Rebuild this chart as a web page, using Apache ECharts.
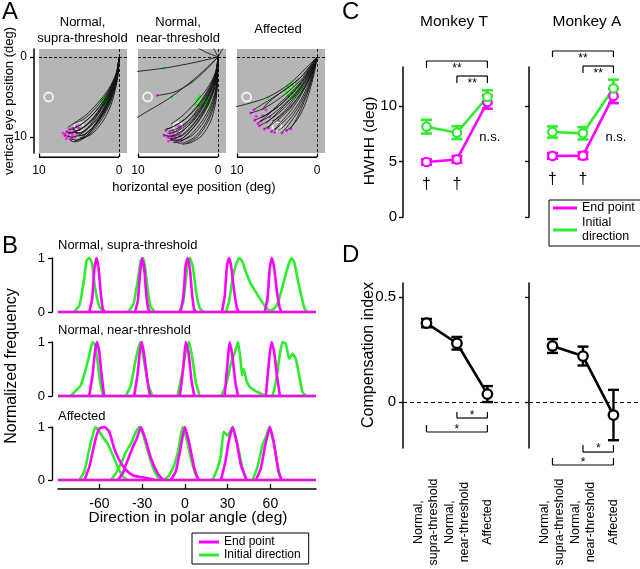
<!DOCTYPE html>
<html><head><meta charset="utf-8">
<script src="https://cdn.jsdelivr.net/npm/echarts@6/dist/echarts.min.js"></script>
<style>html,body{margin:0;padding:0;background:#fff}#c{width:640px;height:569px}</style>
</head><body><div id="c"></div><script>
// ---------------- DATA ----------------
// Panel A: eye trajectories [horizontal, vertical] (deg)
const aTitles = ['Normal,\nsupra-threshold', 'Normal,\nnear-threshold', 'Affected'];
const aTicks = [10, 0];
const trajA1 = [
  [[0,0],[0.1,2],[0.5,4],[1.2,6],[2.3,8],[3.8,9.8],[4.8,10.3]],
  [[0,0],[0.15,2],[0.6,4],[1.4,6],[2.6,8],[4.3,9.7],[5.0,9.8]],
  [[0,0],[0.2,2],[0.8,4],[1.7,6],[3.0,8],[4.8,9.5],[5.6,9.4]],
  [[0,0],[0.2,2],[0.9,4],[2.0,6],[3.5,8],[5.2,9.2],[5.9,9.0]],
  [[0,0],[0.3,2],[1.1,4],[2.3,6],[3.9,7.8],[5.5,8.9],[6.2,9.1]],
  [[0,0],[0.3,2],[1.2,4],[2.6,6],[4.3,7.7],[5.6,8.3]],
  [[0,0],[0.2,2],[0.8,4],[1.6,6],[2.7,8],[4.0,9.8],[5.0,10.5],[5.7,10.6],[6.3,10.2]],
  [[0,0],[0.15,2],[0.7,4],[1.5,6],[2.8,8.2],[4.4,9.9],[5.3,10.4],[6.0,10.2]],
  [[0,0],[0.25,2],[1.0,4],[2.1,6],[3.4,7.8],[4.8,9.0],[6.0,9.5],[6.6,9.3]],
  [[0,0],[0.35,2],[1.3,4],[2.7,5.8],[4.2,7.3],[5.5,8.2],[6.4,8.8]],
  [[0,0],[0.1,2],[0.45,4],[1.0,6],[2.0,8],[3.5,9.7],[4.9,10.1]],
  [[0,0],[0.25,2],[0.9,4],[1.9,6],[3.2,8],[4.6,9.5],[5.9,10.0],[6.8,9.8]],
  [[0,0],[0.18,2],[0.75,4],[1.6,6],[2.9,8],[4.5,9.3],[5.4,9.6]],
  [[0,0],[0.12,2],[0.55,4],[1.3,6],[2.5,8],[4.1,9.9],[5.6,10.5]],
  [[0,0],[0.22,2],[0.85,4],[1.85,6],[3.3,7.9],[5.0,9.1],[6.4,9.6]],
  [[0,0],[0.28,2],[1.05,4],[2.2,5.9],[3.7,7.6],[5.2,8.7],[6.0,8.9]],
  [[0,0],[0.16,2],[0.65,4],[1.45,6],[2.7,8.1],[4.2,9.6],[5.2,9.9]]
];
const trajA2 = [
  [[0,0],[0.3,2],[1.2,4],[2.5,6],[4.2,7.8],[5.8,8.8],[6.5,9.0]],
  [[0,0],[0.25,2],[1.0,4],[2.2,6],[3.7,8],[5.3,9.3],[6.3,9.6]],
  [[0,0],[0.2,2],[0.8,4],[1.8,6],[3.2,8],[4.8,9.6],[5.8,10.0]],
  [[0,0],[0.15,2],[0.6,4],[1.5,6],[2.8,8],[4.3,9.6],[5.6,10.3]],
  [[0,0],[0.1,2],[0.45,4],[1.2,6],[2.4,8],[3.9,9.7],[5.2,10.5],[6.0,10.4]],
  [[0,0],[0.08,2],[0.3,4],[0.9,6],[2.0,8],[3.5,9.8],[4.8,10.6],[5.6,10.7]],
  [[0,0],[0.05,2],[0.2,4],[0.6,6],[1.4,8],[2.8,9.9],[4.2,10.7],[5.0,10.8]],
  [[0,0],[0.03,2],[0.1,4],[0.35,6],[0.9,8],[2.0,9.8],[3.4,10.7],[4.5,10.9]],
  [[0,0],[0.2,2],[0.9,4],[2.0,6],[3.4,7.7],[5.0,8.9],[6.2,9.3]],
  [[0,0],[0.12,2],[0.5,4],[1.3,6],[2.6,8.2],[4.2,10.0],[5.3,10.4],[6.2,10.1]],
  [[0,0],[0.35,2],[1.4,4],[2.9,5.8],[4.5,7.4],[5.9,8.4]],
  [[0,0],[0.18,2],[0.75,4],[1.7,6],[3.0,7.9],[4.6,9.3],[6.0,9.9],[6.9,9.7]],
  [[0,0],[0.07,2],[0.25,4],[0.75,6],[1.7,8],[3.1,9.7],[4.6,10.5]],
  [[0,0],[0.14,2],[0.55,4],[1.4,6],[2.7,8],[4.4,9.8],[5.9,10.2]],
  [[0,0],[0.22,2],[0.85,4],[1.9,6],[3.3,7.9],[4.9,9.2],[5.7,9.4]],
  [[0,0],[0.04,2],[0.15,4],[0.5,6],[1.2,8],[2.5,9.9],[3.9,10.8]],
  [[0,0],[0.28,2],[1.1,4],[2.4,6],[3.9,7.6],[5.4,8.6],[6.6,9.1]],
  [[0,0],[3,0.7],[6.8,1.4],[10.5,1.85]],
  [[0,0],[1.5,1.6],[3.3,3.2],[5.5,4.4],[7.6,4.8]],
  [[0,0],[2,1.9],[4,3.6],[6.3,5.3],[8.5,6.6],[10.5,7.8]],
  [[0,0],[1.5,-0.6],[2.6,-1.2]],
  [[0,0],[0.4,-0.8],[0.6,-1.2]],
  [[0,0],[-0.4,-0.7],[-0.7,-1.2]]
];
const trajA3 = [
  [[0,0],[0.8,1.2],[1.8,2.6],[3.2,4.0],[5.0,5.4],[6.8,6.5],[8.3,7.0]],
  [[0,0],[0.7,1.3],[1.6,2.8],[2.9,4.4],[4.6,6.0],[6.3,7.2],[7.8,7.9]],
  [[0,0],[0.6,1.4],[1.4,3.0],[2.6,4.7],[4.1,6.4],[5.8,7.8],[7.2,8.6]],
  [[0,0],[0.5,1.5],[1.2,3.2],[2.3,5.0],[3.7,6.8],[5.3,8.2],[6.6,9.0]],
  [[0,0],[0.45,1.6],[1.1,3.4],[2.0,5.3],[3.2,7.1],[4.6,8.5],[5.7,9.3]],
  [[0,0],[0.4,1.7],[0.95,3.6],[1.7,5.5],[2.7,7.3],[3.8,8.8],[4.4,9.5]],
  [[0,0],[0.3,1.8],[0.8,3.8],[1.4,5.7],[2.2,7.4],[3.1,8.6],[3.8,9.2]],
  [[0,0],[0.9,1.2],[2.0,2.5],[3.5,3.7],[5.2,4.9],[6.8,5.9],[7.9,6.6]],
  [[0,0],[0.65,1.3],[1.5,2.9],[2.7,4.5],[4.3,6.1],[5.9,7.4],[7.0,8.0]],
  [[0,0],[0.55,1.45],[1.3,3.1],[2.5,4.8],[3.9,6.6],[5.4,8.0],[6.1,8.9]],
  [[0,0],[0.5,1.5],[1.2,3.2],[2.2,5.1],[3.5,7.0],[4.9,8.6],[5.3,9.4]],
  [[0,0],[0.75,1.25],[1.7,2.7],[3.0,4.2],[4.7,5.8],[6.3,7.4],[7.4,8.3]],
  [[0,0],[1.5,1.5],[3.5,3.4],[6.1,5.0],[8.5,5.8],[10.5,6.3]],
  [[0,0],[0.35,1.7],[0.9,3.7],[1.6,5.6],[2.5,7.6],[3.3,9.0]],
  [[0,0],[0.85,1.1],[1.9,2.4],[3.3,3.6],[5.0,4.8],[6.4,6.0],[6.8,6.6]],
  [[0,0],[0.6,1.35],[1.45,2.95],[2.65,4.6],[4.2,6.2],[5.6,7.6],[6.4,8.3]],
  [[0,0],[0.42,1.65],[1.0,3.5],[1.85,5.4],[2.95,7.2],[4.2,8.7],[4.9,9.3]],
  [[0,0],[0.72,1.28],[1.65,2.75],[2.95,4.3],[4.5,5.9],[6.0,7.0],[7.0,7.6]],
  [[0,0],[0.52,1.5],[1.25,3.2],[2.35,5.0],[3.8,6.7],[5.0,7.7],[5.6,8.0]]
];
const greenA1 = [[1.0,5.3],[1.3,5.0],[1.6,5.5],[1.9,5.2],[2.1,5.6],[1.2,5.7],[1.5,5.9],[0.9,4.9],[1.8,5.8],[1.4,5.4],[2.2,5.3],[1.1,5.5],[1.7,5.1],[2.0,5.9],[1.3,5.6]];
const magA1 = [[5.0,8.9],[5.6,9.2],[6.1,9.4],[6.5,9.3],[5.8,9.7],[6.3,9.9],[5.3,9.5],[6.7,9.6],[5.9,10.1],[6.8,9.8],[5.4,8.6],[6.2,9.0],[6.0,10.3],[5.5,10.0],[6.6,10.2],[7.0,9.5]];
const greenA2 = [[0.9,5.0],[1.2,5.4],[1.5,5.8],[1.8,5.2],[2.1,5.6],[2.4,6.0],[2.7,5.5],[1.3,6.1],[1.6,5.0],[2.0,6.2],[2.5,5.2],[1.1,5.8],[1.9,5.9],[2.3,4.9],[1.4,5.6],[2.8,5.9],[6.8,1.4],[3.3,3.2],[5.8,5.0]];
const magA2 = [[4.5,9.0],[5.0,9.3],[5.5,9.1],[6.0,9.5],[6.5,9.2],[4.8,9.8],[5.3,10.1],[5.8,10.3],[6.3,10.0],[4.6,10.4],[5.2,10.6],[6.7,9.8],[5.9,9.9],[4.9,8.7],[5.6,9.7],[6.2,10.5],[7.6,4.8]];
const greenA3 = [[2.0,3.4],[2.4,3.8],[2.8,4.2],[3.2,4.5],[3.6,4.8],[2.2,4.5],[2.6,3.2],[3.0,3.6],[3.4,4.0],[3.8,4.4],[2.5,4.9],[3.1,5.0],[1.9,4.0],[4.0,4.1],[2.9,4.7],[3.3,3.3],[2.1,3.9],[3.7,3.6],[2.7,4.4],[3.5,5.0],[6.1,5.0]];
const magA3 = [[8.3,7.0],[7.8,7.9],[7.2,8.6],[6.6,9.0],[5.7,9.3],[4.4,9.5],[3.8,9.2],[7.9,6.6],[7.0,8.0],[6.1,8.9],[5.3,9.4],[7.4,8.3],[3.3,9.0],[6.8,7.3],[5.9,7.5],[4.8,8.0],[6.4,6.6],[7.6,7.4]];
const targetsA = [[8.8,5.0],[5.0,8.7]];

// Panel B: normalized direction distributions [angle, freq]
const bTitles = ['Normal, supra-threshold', 'Normal, near-threshold', 'Affected'];
const bTicks = [-60, -30, 0, 30, 60];
const bRange = [-89, 92];
const bGreenR1 = [
  [[-78,0],[-74,0.12],[-71,0.55],[-69,0.95],[-67,1],[-65,0.88],[-63,0.45],[-60,0.1],[-57,0]],
  [[-40,0],[-36,0.15],[-33,0.6],[-31,0.95],[-29.5,1],[-28,0.85],[-26,0.4],[-24,0.1],[-21,0]],
  [[-4,0],[-1,0.2],[1.5,0.8],[3.5,1],[5.5,0.85],[8,0.35],[10.5,0.07],[13,0]],
  [[28.7,0],[31,0.19],[33.4,0.62],[35.7,0.86],[38.1,1],[40.4,0.93],[42.8,0.74],[46.3,0.52],[49.8,0.37],[53.3,0.22],[56.8,0.09],[60.4,0]],
  [[59,0],[62,0.05],[65,0.15],[68,0.42],[71,0.72],[73,0.9],[75,1],[77,0.9],[79,0.62],[82,0.27],[84,0.06],[86,0]]
];
const bMagR1 = [
  [[-67,0],[-65,0.25],[-63.5,0.8],[-62,1],[-60.5,0.8],[-59,0.35],[-57.5,0.05],[-56,0]],
  [[-35,0],[-33,0.2],[-31.5,0.7],[-30,1],[-28.5,0.8],[-27,0.3],[-25.5,0.05],[-24,0]],
  [[-3,0],[-1,0.3],[0.5,0.85],[2,1],[3.5,0.8],[5,0.35],[6.5,0.05],[8,0]],
  [[26,0],[28,0.3],[29.5,0.85],[31,1],[32.5,0.85],[34.5,0.4],[36.5,0.08],[38,0]],
  [[56,0],[58,0.25],[59.5,0.8],[61,1],[62.5,0.85],[64.5,0.4],[66.5,0.08],[68,0]]
];
const bGreenR2 = [
  [[-80,0],[-76.5,0.1],[-73,0.2],[-69.5,0.5],[-67.1,0.75],[-64.8,1],[-62.9,0.94],[-61.2,0.63],[-59.4,0.26],[-57.7,0.04],[-56,0]],
  [[-41.4,0],[-37.9,0.2],[-34.4,0.69],[-31.3,1],[-28.5,0.63],[-25.5,0.2],[-22.7,0]],
  [[-5.2,0],[-2.2,0.38],[0.6,0.81],[3,1],[5.3,0.69],[7.6,0.26],[10.4,0]],
  [[25.6,0],[29.1,0.23],[32.6,0.63],[35,0.81],[37.3,1],[39,0.69],[40.1,0.38],[41.3,0.5],[43.2,0.29],[45.5,0.17],[49,0.1],[53.7,0.04],[57.3,0]],
  [[61.5,0],[63.9,0.26],[66.2,0.69],[68.5,1],[70.8,0.97],[73.2,0.69],[75.5,0.78],[77.8,0.69],[80.2,0.38],[82.5,0.07],[84.9,0]]
];
const bMagR2 = [
  [[-67.1,0],[-64.8,0.38],[-63.1,0.81],[-61.7,1],[-60,0.81],[-58.4,0.38],[-56.6,0]],
  [[-35.6,0],[-33.3,0.38],[-31.6,0.81],[-30.2,1],[-28.5,0.75],[-26.2,0.26],[-24.4,0]],
  [[-3.5,0],[-1.2,0.5],[0.6,1],[2.5,0.81],[4.8,0.26],[6.7,0]],
  [[27.9,0],[29.8,0.57],[31.4,1],[33.3,0.75],[35.4,0.26],[37.3,0]],
  [[56.8,0],[59.2,0.69],[60.8,1],[62.7,0.81],[64.6,0.38],[66.7,0]]
];
const bGreenR3 = [
  [[-74,0],[-70.5,0.16],[-67,0.59],[-64.7,0.84],[-62.8,1],[-60.5,0.94],[-57.7,0.81],[-54.2,0.69],[-50.6,0.47],[-47.1,0.25],[-43.6,0.06],[-40.1,0]],
  [[-51.9,0],[-48.4,0.125],[-44.8,0.31],[-41.3,0.53],[-37.8,0.69],[-34.3,0.91],[-31.9,1],[-29.1,0.84],[-26.1,0.56],[-22.6,0.25],[-19.1,0.06],[-16.8,0]],
  [[-14.5,0],[-11,0.09],[-7.5,0.28],[-4.4,0.59],[-1.6,1],[1.2,0.78],[4.2,0.41],[7.7,0.09],[10.1,0]],
  [[19.4,0],[22.9,0.22],[25.3,0.47],[27.2,0.91],[30,0.84],[33.5,1],[37,0.66],[40.5,0.22],[43.3,0]],
  [[47.5,0],[51,0.25],[54.5,0.66],[56.8,0.81],[59.2,1],[62.2,0.72],[65,0.28],[67.4,0]]
];
const bMagR3 = [
  [[-70.5,0],[-67,0.25],[-64.7,0.53],[-62.3,0.81],[-60,0.97],[-56.5,1],[-53,0.91],[-49.5,0.59],[-46,0.375],[-41.3,0.19],[-36.6,0.09],[-31.9,0.06],[-27.2,0.04],[-21.4,0]],
  [[-47.1,0],[-43.6,0.125],[-40.1,0.375],[-36.6,0.62],[-33.8,0.78],[-30.8,1],[-27.8,0.78],[-23.8,0.41],[-19.1,0.125],[-15.1,0]],
  [[-9.9,0],[-6.4,0.16],[-3.5,0.53],[0,1],[3.1,0.69],[6.6,0.22],[9.6,0]],
  [[25.3,0],[28.4,0.34],[30.7,0.72],[33.5,1],[36.3,0.72],[39.3,0.28],[43.3,0]],
  [[49.8,0],[53.3,0.22],[56.4,0.66],[59.7,1],[62.7,0.66],[65.7,0.16],[68,0]]
];

// Panel C: HWHH (deg), conditions 1..3
const conds = [1, 2, 3];
const cTitles = ['Monkey T', 'Monkey A'];
const cTicks = [0, 5, 10];
const hwhhEndT = [4.95, 5.18, 10.35];
const hwhhEndErrT = [0.25, 0.3, 0.6];
const hwhhInitT = [8.13, 7.59, 10.8];
const hwhhInitErrT = [0.62, 0.57, 0.6];
const hwhhEndA = [5.5, 5.52, 10.9];
const hwhhEndErrA = [0.25, 0.3, 0.65];
const hwhhInitA = [7.65, 7.53, 11.58];
const hwhhInitErrA = [0.5, 0.55, 0.78];
// significance brackets C: [x1, x2, lineValue, endValue, label, labelValue]
const sigCT = [[1,3,14.04,13.41,'**',13.32],[2,3,12.69,12.06,'**',11.97]];
const sigCA = [[1,3,14.94,14.4,'**',14.22],[2,3,13.59,12.96,'**',12.87]];
const nsC = [[3.08,7.2,'n.s.']];
const daggerT = [[1,2.88],[2,2.88]];
const daggerA = [[1,3.33],[2,3.33]];

// Panel D: compensation index
const dTicks = [0, 0.5];
const compT = [0.376, 0.28, 0.038];
const compErrT = [0.02, 0.03, 0.038];
const compA = [0.267, 0.219, -0.062];
const compErrA = [0.033, 0.045, 0.12];
const sigDT = [[2,3,-0.0762,-0.0476,'*',-0.0667],[1,3,-0.1429,-0.1096,'*',-0.1334]];
const sigDA = [[2,3,-0.2382,-0.2049,'*',-0.2239],[1,3,-0.3001,-0.2668,'*',-0.2906]];
const dCatLabels = ['Normal,\nsupra-threshold', 'Normal,\nnear-threshold', 'Affected'];
const dCatLabelValue = -0.5717;

// ---------------- CHART ----------------
const FONT = '"Liberation Sans", Arial, Helvetica, sans-serif';
const MAG = '#ff00ff', GRN = '#2ded2d', GRNDOT = '#00ff00';
const chart = echarts.init(document.getElementById('c'), null, {renderer: 'canvas'});

const grids = [], xAxes = [], yAxes = [], series = [];
const txt = (size) => ({color: '#000', fontFamily: FONT, fontSize: size});
const noSplit = {show: false};

// grids 0-2: A
[39, 138, 237].forEach(l => grids.push({left: l, top: 49, width: 88, height: 104, show: true, backgroundColor: '#b5b5b5', borderWidth: 0, outerBoundsMode: 'none'}));
// grids 3-5: B
[[258, 54], [342, 54], [427, 53]].forEach(([t, h]) => grids.push({left: 58, top: t, width: 258, height: h, outerBoundsMode: 'none'}));
// grids 6-7: C, 8-9: D
grids.push({left: 403, top: 67, width: 117, height: 150, outerBoundsMode: 'none'});
grids.push({left: 529, top: 67, width: 111, height: 150, outerBoundsMode: 'none'});
grids.push({left: 403, top: 283, width: 117, height: 165, outerBoundsMode: 'none'});
grids.push({left: 529, top: 283, width: 111, height: 165, outerBoundsMode: 'none'});

// A axes
for (let p = 0; p < 3; p++) {
  xAxes.push({type: 'value', gridIndex: p, min: -1, max: 10, inverse: true, offset: 4,
    axisLine: {show: false, onZero: false},
    axisTick: {show: true, inside: true, length: 3.5, customValues: aTicks, lineStyle: {color: '#000', width: 1.3}},
    axisLabel: {show: true, customValues: aTicks, margin: 8, ...txt(12)}, splitLine: noSplit});
  yAxes.push({type: 'value', gridIndex: p, min: -1, max: 12, inverse: true, show: p === 0, offset: 5,
    axisLine: {show: true, onZero: false, lineStyle: {color: '#000', width: 1.5}},
    axisTick: {show: true, length: 4, customValues: [0, 10], lineStyle: {color: '#000', width: 1.3}},
    axisLabel: {show: true, customValues: [0, 10], margin: 7, ...txt(12)}, splitLine: noSplit});
}
// B axes
for (let r = 0; r < 3; r++) {
  xAxes.push({type: 'value', gridIndex: 3 + r, min: bRange[0], max: bRange[1], show: r === 2, offset: 9,
    axisLine: {show: true, onZero: false, lineStyle: {color: '#000', width: 1.5}},
    axisTick: {show: true, inside: true, length: 5, customValues: bTicks, lineStyle: {color: '#000', width: 1.3}},
    axisLabel: {show: true, customValues: bTicks, margin: 8, ...txt(14)}, splitLine: noSplit});
  yAxes.push({type: 'value', gridIndex: 3 + r, min: 0, max: 1, offset: 6,
    axisLine: {show: true, onZero: false, lineStyle: {color: '#000', width: 1.4}},
    axisTick: {show: true, length: 4, customValues: [0, 1], lineStyle: {color: '#000', width: 1.3}},
    axisLabel: {show: true, customValues: [0, 1], margin: 7, ...txt(13)}, splitLine: noSplit});
}
// C / D axes
const cdMax = [4.07, 3.87];
for (let m = 0; m < 2; m++) {
  xAxes.push({type: 'value', gridIndex: 6 + m, min: 0.23, max: cdMax[m], show: false, axisLine: {onZero: false}, splitLine: noSplit});
  yAxes.push({type: 'value', gridIndex: 6 + m, min: 0, max: 13.5,
    axisLine: {show: true, onZero: false, lineStyle: {color: '#000', width: 1.5}},
    axisTick: {show: true, length: 4, customValues: cTicks, lineStyle: {color: '#000', width: 1.4}},
    axisLabel: {show: m === 0, customValues: cTicks, margin: 6, ...txt(15)}, splitLine: noSplit});
}
for (let m = 0; m < 2; m++) {
  xAxes.push({type: 'value', gridIndex: 8 + m, min: 0.23, max: cdMax[m], show: false, axisLine: {onZero: false}, splitLine: noSplit});
  yAxes.push({type: 'value', gridIndex: 8 + m, min: -0.219, max: 0.567,
    axisLine: {show: true, onZero: false, lineStyle: {color: '#000', width: 1.5}},
    axisTick: {show: true, length: 4, customValues: dTicks, lineStyle: {color: '#000', width: 1.4}},
    axisLabel: {show: m === 0, customValues: dTicks, margin: 7, ...txt(15)}, splitLine: noSplit});
}

// ---- B series (first, so legend icons come from them)
const bGreen = [bGreenR1, bGreenR2, bGreenR3];
const bMag = [bMagR1, bMagR2, bMagR3];
const bLine = (gi, name, color, data) => ({type: 'line', name, xAxisIndex: gi, yAxisIndex: gi, data,
  symbol: 'none', smooth: 0.15, clip: false, silent: true, animation: false,
  lineStyle: {color, width: 2.6}, itemStyle: {color}});
for (let r = 0; r < 3; r++) {
  const gi = 3 + r;
  series.push(bLine(gi, 'Initial direction', GRN, bRange.map(x => [x, 0])));
  bGreen[r].forEach(pk => series.push(bLine(gi, 'Initial direction', GRN, pk)));
  series.push(bLine(gi, 'End point', MAG, bRange.map(x => [x, 0])));
  bMag[r].forEach(pk => series.push(bLine(gi, 'End point', MAG, pk)));
}

// ---- A series
const trajA = [trajA1, trajA2, trajA3];
const greenA = [greenA1, greenA2, greenA3];
const magA = [magA1, magA2, magA3];
for (let p = 0; p < 3; p++) {
  series.push({type: 'scatter', xAxisIndex: p, yAxisIndex: p, data: [], silent: true,
    markLine: {silent: true, symbol: 'none', animation: false, label: {show: false},
      lineStyle: {color: '#000', type: [3, 2], width: 0.9}, data: [{xAxis: 0}, {yAxis: 0}]}});
  trajA[p].forEach(t => series.push({type: 'line', xAxisIndex: p, yAxisIndex: p, data: t, symbol: 'none',
    smooth: 0.3, silent: true, animation: false, lineStyle: {color: '#111', width: 0.85}}));
  series.push({type: 'scatter', xAxisIndex: p, yAxisIndex: p, data: greenA[p], symbolSize: 3, silent: true, animation: false, itemStyle: {color: GRNDOT}});
  series.push({type: 'scatter', xAxisIndex: p, yAxisIndex: p, data: magA[p], symbolSize: 3, silent: true, animation: false, itemStyle: {color: MAG}});
  series.push({type: 'scatter', xAxisIndex: p, yAxisIndex: p, data: targetsA, symbolSize: 9, silent: true, animation: false,
    itemStyle: {color: 'rgba(0,0,0,0)', borderColor: '#fff', borderWidth: 1.8}});
}

// ---- error bar helper
function errSeries(gi, vals, errs, color, lw) {
  return {type: 'custom', xAxisIndex: gi, yAxisIndex: gi, silent: true, clip: false, animation: false,
    data: conds.map((x, i) => [x, vals[i] - errs[i], vals[i] + errs[i]]),
    encode: {x: 0, y: [1, 2]},
    renderItem: (params, api) => {
      const x = api.value(0), lo = api.value(1), hi = api.value(2);
      const a = api.coord([x, lo]), b = api.coord([x, hi]);
      const st = {stroke: color, lineWidth: lw};
      const h = 5.5;
      return {type: 'group', children: [
        {type: 'line', shape: {x1: a[0], y1: a[1], x2: b[0], y2: b[1]}, style: st},
        {type: 'line', shape: {x1: a[0] - h, y1: a[1], x2: a[0] + h, y2: a[1]}, style: st},
        {type: 'line', shape: {x1: b[0] - h, y1: b[1], x2: b[0] + h, y2: b[1]}, style: st}]};
    }};
}
const ptLine = (gi, name, vals, color, size, bw) => ({type: 'line', name, xAxisIndex: gi, yAxisIndex: gi,
  data: conds.map((x, i) => [x, vals[i]]), symbol: 'circle', symbolSize: size, showSymbol: true, clip: false,
  silent: true, animation: false, lineStyle: {color, width: 2.6},
  itemStyle: {color: '#fff', borderColor: color, borderWidth: bw}});

// ---- C series
const cData = [[hwhhEndT, hwhhEndErrT, hwhhInitT, hwhhInitErrT], [hwhhEndA, hwhhEndErrA, hwhhInitA, hwhhInitErrA]];
for (let m = 0; m < 2; m++) {
  const gi = 6 + m, d = cData[m];
  series.push(errSeries(gi, d[0], d[1], MAG, 2.6));
  series.push(ptLine(gi, 'End point', d[0], MAG, 8.5, 2.2));
  series.push(errSeries(gi, d[2], d[3], GRN, 2.6));
  series.push(ptLine(gi, 'Initial direction', d[2], GRN, 8.5, 2.2));
}
// ---- D series
const dData = [[compT, compErrT], [compA, compErrA]];
for (let m = 0; m < 2; m++) {
  const gi = 8 + m;
  series.push(errSeries(gi, dData[m][0], dData[m][1], '#000', 2.4));
  const s = ptLine(gi, 'comp' + m, dData[m][0], '#000', 9.5, 2.3);
  s.markLine = {silent: true, symbol: 'none', animation: false, label: {show: false},
    lineStyle: {color: '#000', type: [4, 3], width: 1}, data: [{yAxis: 0}]};
  s.z = 3;
  series.push(s);
}

const legendItems = [{name: 'End point', itemStyle: {color: MAG}}, {name: 'Initial direction', itemStyle: {color: GRN}}];
const option = {
  animation: false,
  backgroundColor: '#fff',
  textStyle: {fontFamily: FONT},
  grid: grids, xAxis: xAxes, yAxis: yAxes, series,
  legend: [
    {left: 192, top: 533, orient: 'vertical', data: legendItems, selectedMode: false, icon: 'rect',
      borderColor: '#000', borderWidth: 1, padding: [3, 8, 3, 7], itemGap: 1, itemWidth: 20, itemHeight: 3,
      textStyle: {color: '#000', fontSize: 12, fontFamily: FONT}},
    {left: 549, top: 200, orient: 'vertical', data: legendItems, selectedMode: false, icon: 'rect',
      borderColor: '#000', borderWidth: 1, padding: [1, 6, 2, 4], itemGap: 1, itemWidth: 24, itemHeight: 3,
      formatter: n => n === 'Initial direction' ? 'Initial\ndirection' : n,
      textStyle: {color: '#000', fontSize: 12.5, lineHeight: 14, fontFamily: FONT}}
  ]
};
chart.setOption(option);

// ---------------- annotations (positions from axes) ----------------
const G = [];
const font = (s, w) => `${w || 'normal'} ${s}px ${FONT}`;
function T(x, y, text, size, o) {
  o = o || {};
  G.push({type: 'text', x, y, rotation: o.rot || 0, silent: true, z: 100,
    style: {text, fill: '#000', font: font(size), align: o.align || 'center', verticalAlign: o.va || 'middle', lineHeight: o.lh || size * 1.2}});
}
function L(x1, y1, x2, y2, w) {
  G.push({type: 'line', silent: true, z: 100, shape: {x1, y1, x2, y2}, style: {stroke: '#000', lineWidth: w || 1.2}});
}
const P = (gi, pt) => chart.convertToPixel({gridIndex: gi}, pt);

// Panel letters
T(2, 12, 'A', 24, {align: 'left'});
T(2, 246, 'B', 24, {align: 'left'});
T(342, 12, 'C', 24, {align: 'left'});
T(342, 255, 'D', 24, {align: 'left'});

// A titles, axis lines, axis names
const aTitleX = [82.5, 178, 278];
for (let p = 0; p < 3; p++) {
  T(aTitleX[p], p === 2 ? 29 : 30.3, aTitles[p], 13, {lh: 15.5});
  const a = P(p, [10, 12]), b = P(p, [0, 12]);
  L(a[0], a[1] + 4.3, b[0], b[1] + 4.3, 1.5);
}
T(9, 101, 'vertical eye position (deg)', 13, {rot: Math.PI / 2});
T(194, 187, 'horizontal eye position (deg)', 13);

// B titles and names
const bTitleY = [245, 330, 416];
for (let r = 0; r < 3; r++) T(58, bTitleY[r], bTitles[r], 13, {align: 'left'});
T(188, 518, 'Direction in polar angle (deg)', 15.5);
T(12, 366, 'Normalized frequency', 16, {rot: Math.PI / 2});

// C titles / names
T(454, 22, cTitles[0], 15.5);
T(587, 22, cTitles[1], 15.5);
T(370, 141, 'HWHH (deg)', 15.5, {rot: Math.PI / 2});
T(369, 355, 'Compensation index', 16, {rot: Math.PI / 2});

// brackets
function bracket(gi, s) {
  const [x1, x2, yl, ye, lab, ylab] = s;
  const a = P(gi, [x1, yl]), b = P(gi, [x2, yl]);
  const ae = P(gi, [x1, ye]), be = P(gi, [x2, ye]);
  L(a[0], a[1], b[0], b[1], 1.2);
  L(a[0], a[1], ae[0], ae[1], 1.2);
  L(b[0], b[1], be[0], be[1], 1.2);
  const t = P(gi, [(x1 + x2) / 2, ylab]);
  T(t[0], t[1], lab, 12);
}
sigCT.forEach(s => bracket(6, s));
sigCA.forEach(s => bracket(7, s));
sigDT.forEach(s => bracket(8, s));
sigDA.forEach(s => bracket(9, s));
[6, 7].forEach(gi => nsC.forEach(n => { const q = P(gi, [n[0], n[1]]); T(q[0], q[1], n[2], 13); }));
daggerT.forEach(d => { const q = P(6, d); T(q[0], q[1], '\u2020', 16); });
daggerA.forEach(d => { const q = P(7, d); T(q[0], q[1], '\u2020', 16); });

// D category labels
[8, 9].forEach(gi => conds.forEach((c, i) => {
  const q = P(gi, [c, dCatLabelValue]);
  T(q[0], q[1], dCatLabels[i], 12.5, {rot: Math.PI / 2, lh: 15});
}));

chart.setOption({graphic: G});
</script></body></html>
